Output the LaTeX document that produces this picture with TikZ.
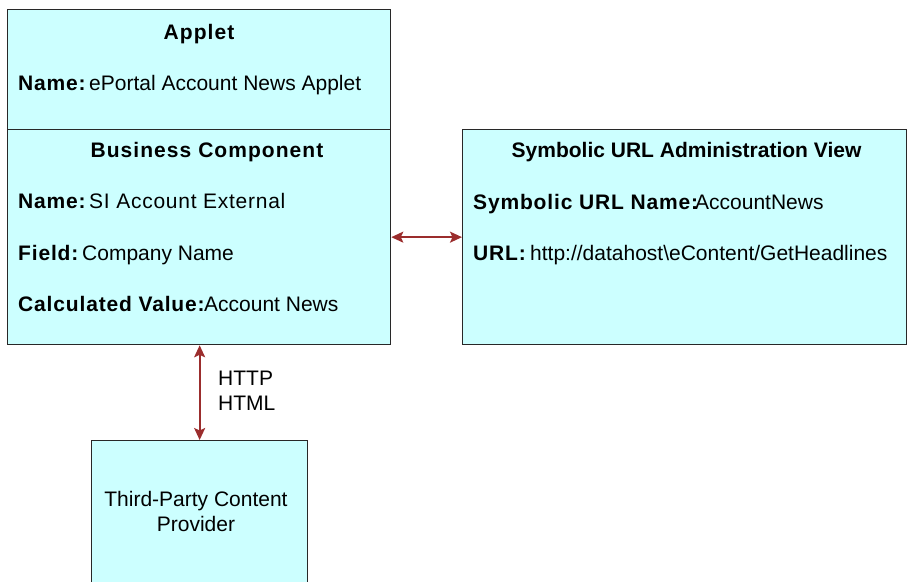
\documentclass[tikz,border=0pt]{standalone}
\usepackage{fontspec}
\setmainfont{Liberation Sans}
\usetikzlibrary{arrows.meta}
\definecolor{boxfill}{RGB}{204,255,255}
\definecolor{linkred}{RGB}{155,45,45}
\definecolor{edgegray}{RGB}{40,40,40}
\newfontfamily\boldwide[LetterSpace=4]{Liberation Sans Bold}
\newfontfamily\boldtitle[LetterSpace=5]{Liberation Sans Bold}
\newfontfamily\boldright[LetterSpace=4]{Liberation Sans Bold}
\newfontfamily\regwide[LetterSpace=3.5]{Liberation Sans}
\begin{document}
\begin{tikzpicture}[x=1pt,y=-1pt,
  box/.style={draw=edgegray, fill=boxfill, line width=1.3pt, rectangle, inner sep=0pt, anchor=north west},
  txt/.style={anchor=base west, inner sep=0pt, font=\fontsize{21}{25}\selectfont},
  ttl/.style={anchor=base, inner sep=0pt, font=\fontsize{21}{25}\selectfont\boldtitle},
  key/.style={txt, font=\fontsize{21}{25}\selectfont\boldwide},
  keyr/.style={txt, font=\fontsize{21}{25}\selectfont\boldright},
  link/.style={draw=linkred, line width=1.9pt, {Stealth[length=12pt,width=11pt,inset=2.5pt]}-{Stealth[length=12pt,width=11pt,inset=2.5pt]}}]
\clip (0,0) rectangle (907,581);
% boxes
\node[box, minimum width=383pt, minimum height=120pt] (applet) at (7,9) {};
\node[box, minimum width=383pt, minimum height=215pt] (bc) at (7,129) {};
\node[box, minimum width=444pt, minimum height=215pt] (sym) at (462,129) {};
\node[box, minimum width=216pt, minimum height=170pt] (third) at (91,440) {};
% applet texts
\node[ttl] (appletT) at (199,39.5) {Applet};
\node[key] (appletK) at (18,90) {Name:};
\node[txt] (appletV) at (89,90) {ePortal Account News Applet};
% business component texts
\node[ttl] (bcT) at (207,157) {Business Component};
\node[key] (bcNK) at (18,208.5) {Name:};
\node[txt, font=\fontsize{21}{25}\selectfont\regwide] (bcNV) at (89,208.5) {SI Account External};
\node[key] (bcFK) at (18,260) {Field:};
\node[txt] (bcFV) at (82,260) {Company Name};
\node[key] (bcCK) at (18,311) {Calculated Value:};
\node[txt] (bcCV) at (204,311) {Account News};
% symbolic URL view texts
\node[anchor=base, inner sep=0pt, font=\fontsize{21}{25}\selectfont\bfseries] (symT) at (686.5,157.5) {Symbolic URL Administration View};
\node[keyr] (symNK) at (473,209) {Symbolic URL Name:};
\node[txt] (symNV) at (695,209) {AccountNews};
\node[keyr] (symUK) at (473,260) {URL:};
\node[txt] (symUV) at (530,260) {http://datahost\textbackslash eContent/GetHeadlines};
% third party
\node[anchor=base, inner sep=0pt, font=\fontsize{21}{25}\selectfont] (thirdT1) at (196,506) {Third-Party Content};
\node[anchor=base, inner sep=0pt, font=\fontsize{21}{25}\selectfont] (thirdT2) at (196,531) {Provider};
% protocol label
\node[txt] (http) at (218,385) {HTTP};
\node[txt] (html) at (218,410.5) {HTML};
% connectors
\draw[link] (bc.east) -- (sym.west);
\draw[link] (third.north |- bc.south) -- (third.north);
\end{tikzpicture}
\end{document}
